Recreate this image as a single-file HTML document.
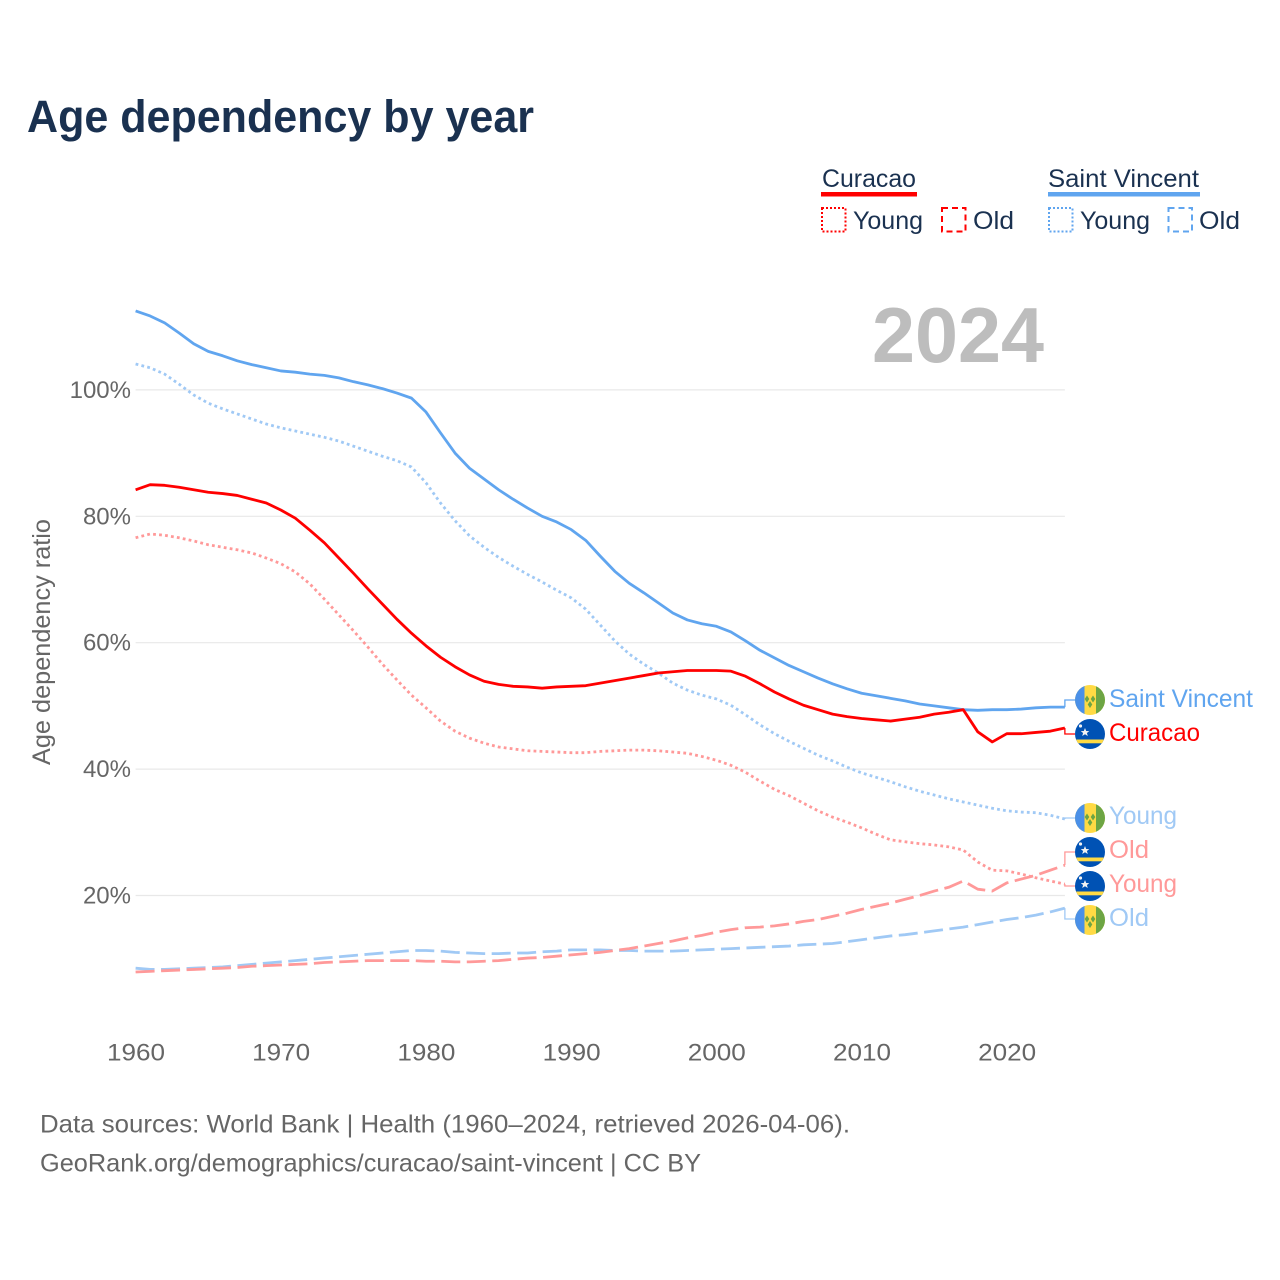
<!DOCTYPE html>
<html lang="en">
<head>
<meta charset="utf-8">
<title>Age dependency by year</title>
<style>
html,body{margin:0;padding:0;background:#fff;width:1280px;height:1280px;overflow:hidden}
svg{display:block}
text{font-family:"Liberation Sans",sans-serif}
</style>
</head>
<body>
<svg id="chart" width="1280" height="1280" viewBox="0 0 1280 1280" xmlns="http://www.w3.org/2000/svg">
<defs>
<clipPath id="flag-clip"><circle cx="0" cy="0" r="15"/></clipPath>
<g id="flag-vc" clip-path="url(#flag-clip)">
<rect x="-15" y="-15" width="30" height="30" fill="#ffda44"/>
<rect x="-15" y="-15" width="9.5" height="30" fill="#4a90e8"/>
<rect x="6" y="-15" width="9" height="30" fill="#6da544"/>
<path d="M-3-4.5l2.3 3.5-2.3 3.5-2.3-3.5zM3-4.5l2.3 3.5-2.3 3.5-2.3-3.5zM0 1l2.3 3.5-2.3 3.5-2.3-3.5z" fill="#6da544"/>
</g>
<g id="flag-cw" clip-path="url(#flag-clip)">
<rect x="-15" y="-15" width="30" height="30" fill="#0052b4"/>
<rect x="-15" y="5.5" width="30" height="3.8" fill="#ffda44"/>
<path d="M-5-6l1.2 3 3.1.1-2.4 1.9.9 3-2.8-1.7-2.8 1.7.9-3-2.4-1.9 3.1-.1z" fill="#f2f2f2"/>
<circle cx="-9.5" cy="-8" r="1.6" fill="#f2f2f2"/>
</g>
</defs>

<text x="27" y="132" font-size="45" font-weight="700" fill="#1a3150" textLength="507" lengthAdjust="spacingAndGlyphs">Age dependency by year</text>

<g>
<text x="822" y="187" font-size="25" fill="#1a3150" textLength="94" lengthAdjust="spacingAndGlyphs">Curacao</text>
<rect x="821" y="192" width="96" height="4.5" fill="#ff0000"/>
<rect x="822" y="208" width="23.5" height="23.5" fill="none" stroke="#ff0000" stroke-width="2" stroke-dasharray="2 2"/>
<text x="853" y="229" font-size="25" fill="#1a3150" textLength="70" lengthAdjust="spacingAndGlyphs">Young</text>
<rect x="942" y="208" width="23.5" height="23.5" fill="none" stroke="#ff0000" stroke-width="2" stroke-dasharray="6 4"/>
<text x="973" y="229" font-size="25" fill="#1a3150" textLength="41" lengthAdjust="spacingAndGlyphs">Old</text>

<text x="1048" y="187" font-size="25" fill="#1a3150" textLength="151" lengthAdjust="spacingAndGlyphs">Saint Vincent</text>
<rect x="1048" y="192" width="152" height="4.5" fill="#60a5ef"/>
<rect x="1049" y="208" width="23.5" height="23.5" fill="none" stroke="#60a5ef" stroke-width="2" stroke-dasharray="2 2"/>
<text x="1080" y="229" font-size="25" fill="#1a3150" textLength="70" lengthAdjust="spacingAndGlyphs">Young</text>
<rect x="1168.5" y="208" width="23.5" height="23.5" fill="none" stroke="#60a5ef" stroke-width="2" stroke-dasharray="6 4"/>
<text x="1199" y="229" font-size="25" fill="#1a3150" textLength="41" lengthAdjust="spacingAndGlyphs">Old</text>
</g>

<g id="grid"></g>
<g id="yticks"></g>
<g id="xticks"></g>

<text transform="translate(50,642) rotate(-90)" text-anchor="middle" font-size="25" fill="#666666" textLength="246" lengthAdjust="spacingAndGlyphs">Age dependency ratio</text>

<text x="872" y="362" font-size="78" font-weight="700" fill="#bdbdbd" textLength="172" lengthAdjust="spacingAndGlyphs">2024</text>

<g id="series"></g>
<g id="connectors"></g>

<g>
<use href="#flag-vc" x="1090" y="700"/>
<text x="1109" y="707" font-size="25" fill="#60a5ef" textLength="144" lengthAdjust="spacingAndGlyphs">Saint Vincent</text>
<use href="#flag-cw" x="1090" y="734"/>
<text x="1109" y="741" font-size="25" fill="#ff0000" textLength="91" lengthAdjust="spacingAndGlyphs">Curacao</text>
<use href="#flag-vc" x="1090" y="818"/>
<text x="1109" y="824" font-size="25" fill="#a0c9f5" textLength="68" lengthAdjust="spacingAndGlyphs">Young</text>
<use href="#flag-cw" x="1090" y="852"/>
<text x="1109" y="858" font-size="25" fill="#ff9999" textLength="40" lengthAdjust="spacingAndGlyphs">Old</text>
<use href="#flag-cw" x="1090" y="886"/>
<text x="1109" y="892" font-size="25" fill="#ff9999" textLength="68" lengthAdjust="spacingAndGlyphs">Young</text>
<use href="#flag-vc" x="1090" y="920"/>
<text x="1109" y="926" font-size="25" fill="#a0c9f5" textLength="40" lengthAdjust="spacingAndGlyphs">Old</text>
</g>

<text x="40" y="1132.5" font-size="25" fill="#666666" textLength="810" lengthAdjust="spacingAndGlyphs">Data sources: World Bank | Health (1960–2024, retrieved 2026-04-06).</text>
<text x="40" y="1171.5" font-size="25" fill="#666666" textLength="661" lengthAdjust="spacingAndGlyphs">GeoRank.org/demographics/curacao/saint-vincent | CC BY</text>
</svg>

<script>
const startYear = 1960;
const xTickYears = [1960, 1970, 1980, 1990, 2000, 2010, 2020];
const yTickValues = [20, 40, 60, 80, 100];

const saintVincentTotal = [112.5,111.7,110.6,109.0,107.3,106.1,105.4,104.6,104.0,103.5,103.0,102.8,102.5,102.3,101.9,101.3,100.8,100.2,99.5,98.7,96.5,93.2,90.0,87.6,85.9,84.2,82.7,81.3,80.0,79.1,77.9,76.2,73.7,71.3,69.4,67.9,66.3,64.7,63.6,63.0,62.6,61.7,60.3,58.8,57.6,56.4,55.4,54.4,53.5,52.7,52.0,51.6,51.2,50.8,50.3,50.0,49.7,49.4,49.3,49.4,49.4,49.5,49.7,49.8,49.8];
const saintVincentYoung = [104.1,103.5,102.5,100.9,99.2,97.9,97.0,96.2,95.4,94.6,94.0,93.5,93.0,92.5,91.9,91.1,90.3,89.5,88.8,87.8,85.3,82.1,79.3,76.9,75.1,73.5,72.1,70.8,69.6,68.3,67.1,65.3,62.8,60.3,58.2,56.6,55.2,53.6,52.5,51.7,51.1,50.1,48.6,47.0,45.6,44.4,43.3,42.2,41.3,40.3,39.4,38.7,38.0,37.2,36.5,35.9,35.3,34.8,34.3,33.8,33.4,33.2,33.1,32.7,32.1];
const saintVincentOld = [8.5,8.3,8.3,8.4,8.5,8.6,8.7,8.9,9.1,9.3,9.5,9.7,9.9,10.1,10.3,10.5,10.7,10.9,11.1,11.3,11.3,11.2,11.0,10.9,10.8,10.8,10.9,10.9,11.1,11.2,11.4,11.4,11.4,11.3,11.3,11.2,11.2,11.2,11.3,11.4,11.5,11.6,11.7,11.8,11.9,12.0,12.2,12.3,12.4,12.7,13.0,13.3,13.6,13.8,14.1,14.4,14.7,15.0,15.4,15.8,16.2,16.5,16.9,17.4,18.0];
const curacaoTotal = [84.2,85.0,84.9,84.6,84.2,83.8,83.6,83.3,82.7,82.1,81.0,79.7,77.8,75.8,73.4,71.0,68.5,66.1,63.7,61.5,59.5,57.7,56.2,54.9,53.9,53.4,53.1,53.0,52.8,53.0,53.1,53.2,53.6,54.0,54.4,54.8,55.2,55.4,55.6,55.6,55.6,55.5,54.7,53.5,52.2,51.1,50.1,49.4,48.7,48.3,48.0,47.8,47.6,47.9,48.2,48.7,49.0,49.4,45.9,44.3,45.6,45.6,45.8,46.0,46.5];
const curacaoYoung = [76.6,77.2,77.0,76.6,76.1,75.5,75.1,74.7,74.2,73.4,72.5,71.2,69.3,66.9,64.4,61.9,59.3,56.6,54.1,51.7,49.7,47.6,46.0,44.9,44.1,43.5,43.2,42.9,42.8,42.7,42.6,42.6,42.8,42.9,43.0,43.0,42.9,42.7,42.5,42.0,41.4,40.6,39.5,38.1,36.8,35.8,34.6,33.4,32.4,31.6,30.7,29.7,28.8,28.5,28.2,28.0,27.7,27.2,25.3,24.0,23.9,23.4,22.8,22.3,21.8];
const curacaoOld = [7.9,8.0,8.1,8.2,8.3,8.4,8.5,8.6,8.8,8.9,9.0,9.1,9.2,9.4,9.5,9.6,9.7,9.7,9.7,9.7,9.6,9.6,9.5,9.5,9.6,9.7,9.9,10.1,10.2,10.4,10.6,10.8,11.0,11.3,11.6,12.0,12.4,12.8,13.3,13.7,14.2,14.6,14.9,15.0,15.2,15.5,15.9,16.2,16.7,17.2,17.8,18.3,18.8,19.4,20.0,20.7,21.3,22.3,21.0,20.7,22.0,22.6,23.2,24.0,24.8];

const NS = 'http://www.w3.org/2000/svg';
const xScale = function (year) { return 135.6 + (year - 1960) * 14.52; };
const yScale = function (value) { return 1021.9 - value * 6.32; };
const plotLeft = xScale(1960);
const plotRight = xScale(2024);

const grid = document.getElementById('grid');
const yticks = document.getElementById('yticks');
const xticks = document.getElementById('xticks');
const seriesGroup = document.getElementById('series');
const connectors = document.getElementById('connectors');

yTickValues.forEach(function (v) {
  const line = document.createElementNS(NS, 'line');
  
  
  line.setAttribute('x1', plotLeft);
  line.setAttribute('x2', plotRight);
  line.setAttribute('y1', yScale(v));
  line.setAttribute('y2', yScale(v));
  line.setAttribute('stroke', '#e8e8e8');
  line.setAttribute('stroke-width', '1.2');
  grid.appendChild(line);

  const label = document.createElementNS(NS, 'text');
  
  
  label.setAttribute('x', 131);
  label.setAttribute('y', yScale(v) + 8);
  label.setAttribute('text-anchor', 'end');
  label.setAttribute('font-size', '24');
  label.setAttribute('fill', '#666666');
  label.textContent = v + '%';
  yticks.appendChild(label);
});

xTickYears.forEach(function (year) {
  const label = document.createElementNS(NS, 'text');
  
  
  label.setAttribute('x', xScale(year) + 0.4);
  label.setAttribute('y', 1060.5);
  label.setAttribute('text-anchor', 'middle');
  label.setAttribute('font-size', '24');
  label.setAttribute('fill', '#666666');
  label.setAttribute('textLength', '58');
  label.setAttribute('lengthAdjust', 'spacingAndGlyphs');
  label.textContent = year;
  xticks.appendChild(label);
});

function drawSeries(name, values, color, dash, labelY) {
  const d = values.map(function (v, i) {
    return (i ? 'L' : 'M') + xScale(startYear + i).toFixed(2) + ' ' + yScale(v).toFixed(2);
  }).join('');
  const path = document.createElementNS(NS, 'path');
  
  
  path.setAttribute('d', d);
  path.setAttribute('fill', 'none');
  path.setAttribute('stroke', color);
  path.setAttribute('stroke-width', '2.8');
  path.setAttribute('stroke-linejoin', 'round');
  if (dash) path.setAttribute('stroke-dasharray', dash);
  seriesGroup.appendChild(path);

  const endY = yScale(values[values.length - 1]);
  const link = document.createElementNS(NS, 'path');
  
  
  link.setAttribute('d', 'M' + plotRight + ' ' + endY.toFixed(2) + 'V' + labelY + 'H1075');
  link.setAttribute('fill', 'none');
  link.setAttribute('stroke', color);
  link.setAttribute('stroke-width', '1.3');
  connectors.appendChild(link);
}

drawSeries('line-saint-vincent-old', saintVincentOld, '#a0c9f5', '19 6.5', 919);
drawSeries('line-curacao-old', curacaoOld, '#ff9999', '19 6.5', 852);
drawSeries('line-saint-vincent-young', saintVincentYoung, '#a0c9f5', '2.8 3.2', 818);
drawSeries('line-curacao-young', curacaoYoung, '#ff9999', '2.8 3.2', 886);
drawSeries('line-saint-vincent-total', saintVincentTotal, '#60a5ef', '', 700);
drawSeries('line-curacao-total', curacaoTotal, '#ff0000', '', 734);
</script>
</body>
</html>
